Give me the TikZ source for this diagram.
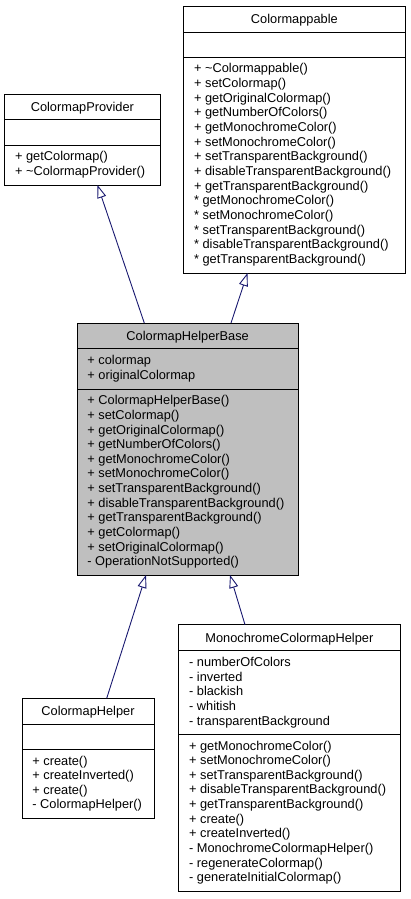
\documentclass[tikz,border=0pt]{standalone}
\usepackage{fontspec}
\setmainfont{Liberation Sans}
\usetikzlibrary{arrows.meta}
\definecolor{edgeblue}{HTML}{191970}
\definecolor{curgray}{HTML}{BFBFBF}
\tikzset{
  cbox/.style={draw=black, line width=1pt, inner sep=0pt, outer sep=0pt},
  mem/.style={anchor=base west, inner sep=0pt, font=\fontsize{12.8}{14.65}\selectfont},
  ttl/.style={anchor=base, inner sep=0pt, font=\fontsize{12.8}{14.65}\selectfont},
  sep/.style={draw=black, line width=1pt},
  inh/.style={draw=edgeblue, line width=0.9pt, -{Triangle[open, length=13pt, width=9pt, line width=0.9pt]}}
}
\newcommand\memberlist[4]{%
  \foreach \t [count=\i] in {#4} {
    \node[mem] (#1-\i) at (#2, {#3+(\i-1)*14.65}) {\t};
  }%
}
\begin{document}
\begin{tikzpicture}[x=1pt, y=-1pt]
\useasboundingbox (0,0) rectangle (411,899);

% ---------- Colormappable ----------
\node[cbox, minimum width=221.3pt, minimum height=266.3pt] (cm) at (294.35,139.85) {};
\draw[sep] (183.7,32.3) -- (405,32.3);
\draw[sep] (183.7,57.3) -- (405,57.3);
\node[ttl] (cm-title) at (294.35,24) {Colormappable};
\memberlist{cmm}{193.9}{73}{+ \textasciitilde Colormappable(),+ setColormap(),+ getOriginalColormap(),+ getNumberOfColors(),+ getMonochromeColor(),+ setMonochromeColor(),+ setTransparentBackground(),+ disableTransparentBackground(),+ getTransparentBackground(),* getMonochromeColor(),* setMonochromeColor(),* setTransparentBackground(),* disableTransparentBackground(),* getTransparentBackground()}

% ---------- ColormapProvider ----------
\node[cbox, minimum width=155.3pt, minimum height=90.3pt] (cp) at (82.35,139.85) {};
\draw[sep] (4.7,119.7) -- (160,119.7);
\draw[sep] (4.7,145.2) -- (160,145.2);
\node[ttl] (cp-title) at (82.35,111.6) {ColormapProvider};
\memberlist{cpm}{14.9}{160.9}{+ getColormap(),+ \textasciitilde ColormapProvider()}

% ---------- ColormapHelperBase ----------
\node[cbox, fill=curgray, minimum width=221.3pt, minimum height=252pt] (chb) at (187.65,449) {};
\draw[sep] (77,348.7) -- (298.3,348.7);
\draw[sep] (77,389) -- (298.3,389);
\node[ttl] (chb-title) at (187.65,340.3) {ColormapHelperBase};
\memberlist{chba}{87.2}{364.4}{+ colormap,+ originalColormap}
\memberlist{chbm}{87.2}{404.7}{+ ColormapHelperBase(),+ setColormap(),+ getOriginalColormap(),+ getNumberOfColors(),+ getMonochromeColor(),+ setMonochromeColor(),+ setTransparentBackground(),+ disableTransparentBackground(),+ getTransparentBackground(),+ getColormap(),+ setOriginalColormap(),- OperationNotSupported()}

% ---------- ColormapHelper ----------
\node[cbox, minimum width=132pt, minimum height=120pt] (ch) at (88,758.3) {};
\draw[sep] (22,724) -- (154,724);
\draw[sep] (22,749.3) -- (154,749.3);
\node[ttl] (ch-title) at (88,715.7) {ColormapHelper};
\memberlist{chm}{32.2}{765}{+ create(),+ createInverted(),+ create(),- ColormapHelper()}

% ---------- MonochromeColormapHelper ----------
\node[cbox, minimum width=221.3pt, minimum height=267pt] (mch) at (289.35,758.2) {};
\draw[sep] (178.7,650.7) -- (400,650.7);
\draw[sep] (178.7,734.3) -- (400,734.3);
\node[ttl] (mch-title) at (289.35,642.2) {MonochromeColormapHelper};
\memberlist{mcha}{188.9}{666.4}{- numberOfColors,- inverted,- blackish,- whitish,- transparentBackground}
\memberlist{mchm}{188.9}{750}{+ getMonochromeColor(),+ setMonochromeColor(),+ setTransparentBackground(),+ disableTransparentBackground(),+ getTransparentBackground(),+ create(),+ createInverted(),- MonochromeColormapHelper(),- regenerateColormap(),- generateInitialColormap()}

% ---------- inheritance connectors ----------
\coordinate (chb-p) at (144.3,323);
\coordinate (cp-t) at (97.5,185);
\coordinate (chb-c) at (231,323);
\coordinate (cm-t) at (247.5,273);
\coordinate (ch-a) at (106.7,698.3);
\coordinate (chb-t1) at (146,575);
\coordinate (mch-a) at (245,624.7);
\coordinate (chb-t2) at (230,575);
\draw[inh] (chb-p) -- (cp-t);
\draw[inh] (chb-c) -- (cm-t);
\draw[inh] (ch-a) -- (chb-t1);
\draw[inh] (mch-a) -- (chb-t2);
\end{tikzpicture}
\end{document}
